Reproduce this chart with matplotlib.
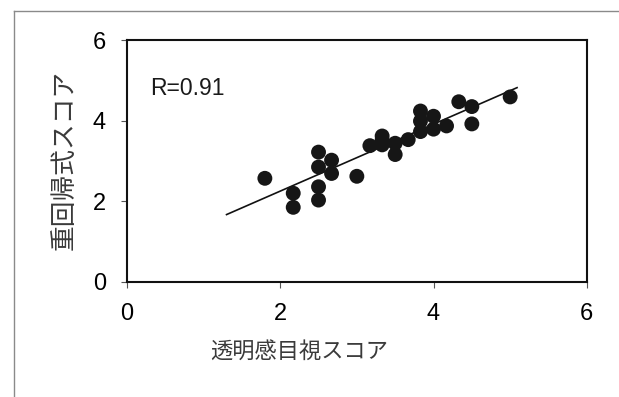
import matplotlib
matplotlib.use("Agg")
import matplotlib.pyplot as plt
from matplotlib.lines import Line2D

# ── Data ─────────────────────────────────────────────────────────────────────
visual_score = [1.80, 2.17, 2.17, 2.50, 2.50, 2.50, 2.50, 2.67, 2.67, 3.00,
                3.17, 3.33, 3.33, 3.33, 3.50, 3.50, 3.67, 3.83, 3.83, 3.83,
                4.00, 4.00, 4.17, 4.33, 4.50, 4.50, 5.00]
regression_score = [2.57, 2.20, 1.85, 3.22, 2.85, 2.36, 2.03, 3.02, 2.69, 2.62,
                    3.38, 3.62, 3.52, 3.40, 3.44, 3.16, 3.53, 4.24, 3.99, 3.73,
                    4.11, 3.79, 3.87, 4.47, 4.35, 3.92, 4.59]
fit_x = [1.30, 5.09]
fit_y = [1.67, 4.82]
r_label = "R=0.91"
xlabel = "透明感目視スコア"
ylabel = "重回帰式スコア"
ticks = [0, 2, 4, 6]

plt.rcParams["font.family"] = ["Liberation Sans", "Noto Sans CJK JP", "DejaVu Sans"]

fig = plt.figure(figsize=(6.19, 3.97), dpi=100)
ax = fig.add_axes([0.205, 0.290, 0.743, 0.609])

ax.scatter(visual_score, regression_score, s=115, color="#161616",
           edgecolors="none", zorder=3)
ax.plot(fit_x, fit_y, color="#111111", linewidth=1.2, zorder=2)

ax.set_xlim(0, 6)
ax.set_ylim(0, 6)
ax.set_xticks(ticks)
ax.set_yticks(ticks)
ax.tick_params(direction="out", length=4, width=0.8, color="#555555",
               labelsize=17, pad=11)
for s in ax.spines.values():
    s.set_linewidth(1.5)
    s.set_color("#111111")

ax.text(0.30, 4.8, r_label, fontsize=16.5, va="center", ha="left",
        color="#1a1a1a")

fig.text(0.483, 0.113, xlabel, fontsize=16, color="#3a3a3a",
         ha="center", va="center", family=["Noto Sans CJK JP"])
fig.text(0.105, 0.597, ylabel, fontsize=18.5, color="#3a3a3a", rotation=90,
         ha="center", va="center", family=["Noto Sans CJK JP"])

# scan frame (top and left edge)
fig.add_artist(Line2D([0.022, 1.0], [0.972, 0.972], transform=fig.transFigure,
                      color="#8a8a8a", linewidth=1.0))
fig.add_artist(Line2D([0.022, 0.022], [0.0, 0.972], transform=fig.transFigure,
                      color="#8a8a8a", linewidth=1.0))

fig.savefig("out.png", dpi=100)
